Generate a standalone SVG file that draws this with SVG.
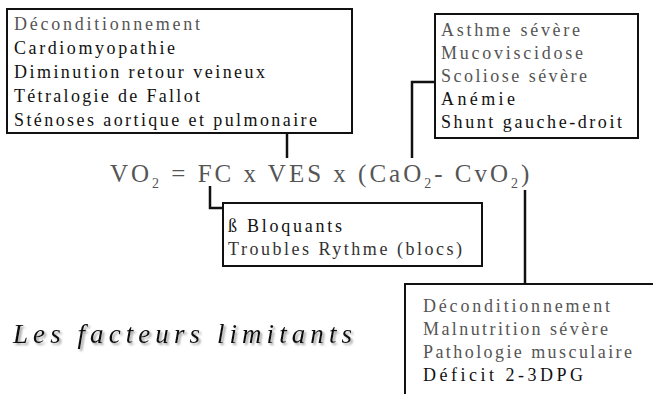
<svg xmlns="http://www.w3.org/2000/svg" width="653" height="394" viewBox="0 0 653 394">
<defs>
<style>
.box{fill:#fff;stroke:#111;stroke-width:2}
.g{fill:#555}
.k{fill:#111}
.conn{fill:none;stroke:#111;stroke-width:2.5}
</style>
<filter id="sh" x="-5%" y="-20%" width="110%" height="140%">
<feDropShadow dx="2" dy="2" stdDeviation="1" flood-color="#888" flood-opacity="0.8"/>
</filter>
</defs>
<rect width="653" height="394" fill="#fff"/>
<g id="connectors">
<path class="conn" d="M287,133 V158"/>
<path class="conn" d="M435,82 H412 V158"/>
<path class="conn" d="M210,186 V208 H223"/>
<path class="conn" d="M525,190 V284"/>
</g>
<g id="box1" font-family="Liberation Serif, Times New Roman, serif" font-size="18">
<rect class="box" x="7" y="9" width="345" height="124"/>
<text class="g" x="14" y="30" textLength="186" lengthAdjust="spacing">Déconditionnement</text>
<text class="k" x="14" y="54" textLength="161" lengthAdjust="spacing">Cardiomyopathie</text>
<text class="k" x="14" y="78" textLength="251" lengthAdjust="spacing">Diminution retour veineux</text>
<text class="k" x="14" y="102" textLength="186" lengthAdjust="spacing">Tétralogie de Fallot</text>
<text class="k" x="14" y="126" textLength="303" lengthAdjust="spacing">Sténoses aortique et pulmonaire</text>
</g>
<g id="box2" font-family="Liberation Serif, Times New Roman, serif" font-size="18">
<rect class="box" x="435" y="14" width="203" height="124"/>
<text class="g" x="441" y="36" textLength="139" lengthAdjust="spacing">Asthme sévère</text>
<text class="g" x="441" y="59" textLength="142" lengthAdjust="spacing">Mucoviscidose</text>
<text class="g" x="441" y="82" textLength="146" lengthAdjust="spacing">Scoliose sévère</text>
<text class="k" x="441" y="105" textLength="74" lengthAdjust="spacing">Anémie</text>
<text class="k" x="441" y="128" textLength="181" lengthAdjust="spacing">Shunt gauche-droit</text>
</g>
<g id="equation" font-family="Liberation Serif, Times New Roman, serif" font-size="25" fill="#555">
<text x="110" y="182" letter-spacing="3">VO<tspan font-size="14" dy="6">2</tspan><tspan dy="-6"> = FC x VES x (CaO</tspan><tspan font-size="14" dy="6">2</tspan><tspan dy="-6">- CvO</tspan><tspan font-size="14" dy="6">2</tspan><tspan dy="-6">)</tspan></text>
</g>
<g id="box3" font-family="Liberation Serif, Times New Roman, serif" font-size="18">
<rect class="box" x="223" y="203" width="259" height="63"/>
<text class="k" x="228" y="232" textLength="114" lengthAdjust="spacing">ß Bloquants</text>
<text x="228" y="255" fill="#333" textLength="234" lengthAdjust="spacing">Troubles Rythme (blocs)</text>
</g>
<g id="box4" font-family="Liberation Serif, Times New Roman, serif" font-size="18">
<rect class="box" x="405" y="284" width="260" height="120"/>
<text class="g" x="423" y="312" textLength="187" lengthAdjust="spacing">Déconditionnement</text>
<text class="g" x="423" y="335" textLength="185" lengthAdjust="spacing">Malnutrition sévère</text>
<text class="g" x="423" y="358" textLength="209" lengthAdjust="spacing">Pathologie musculaire</text>
<text class="k" x="423" y="381" textLength="160" lengthAdjust="spacing">Déficit 2-3DPG</text>
</g>
<g id="title">
<text x="13" y="343" font-family="Liberation Serif, Times New Roman, serif" font-size="27" font-style="italic" fill="#111" filter="url(#sh)" textLength="339" lengthAdjust="spacing">Les facteurs limitants</text>
</g>
</svg>
